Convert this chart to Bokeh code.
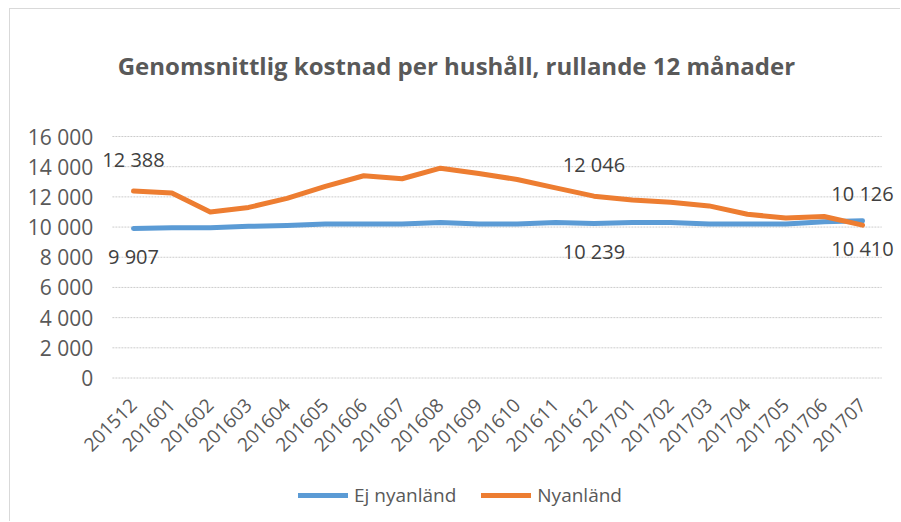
from bokeh.plotting import figure
from bokeh.models import (Range1d, FixedTicker, ColumnDataSource, LabelSet,
                          Label, Legend, LegendItem)
from bokeh.core.properties import value
from bokeh.embed import file_html
from bokeh.resources import INLINE
import math

# ---------------- data ----------------
months = ["201512", "201601", "201602", "201603", "201604", "201605", "201606", "201607",
          "201608", "201609", "201610", "201611", "201612", "201701", "201702", "201703",
          "201704", "201705", "201706", "201707"]
ej_nyanland = [9907, 9950, 9960, 10050, 10100, 10200, 10200, 10200, 10300, 10200,
               10200, 10300, 10239, 10300, 10300, 10200, 10200, 10200, 10350, 10410]
nyanland = [12388, 12250, 11000, 11300, 11900, 12700, 13400, 13200, 13900, 13550,
            13150, 12600, 12046, 11800, 11650, 11400, 10850, 10600, 10700, 10126]
label_months_orange = ["201512", "201612", "201707"]
label_values_orange = [12388, 12046, 10126]
label_months_blue = ["201512", "201612", "201707"]
label_values_blue = [9907, 10239, 10410]
y_ticks = [0, 2000, 4000, 6000, 8000, 10000, 12000, 14000, 16000]
title_text = "Genomsnittlig kostnad  per hushåll, rullande 12 månader"
series_names = ["Ej nyanländ", "Nyanländ"]

# ---------------- style / layout ----------------
FONT = "Open Sans"
GRAY = "#595959"
BLUE = "#5B9BD5"
ORANGE = "#ED7D31"
MT, ML = 8, 9                          # css margin (top, left) of the chart box
OX, OY = ML + 1, MT + 1                # figure canvas origin on the page
W, H = 901 - OX, 522 - OY
FL, FR, FT, FB = 14, 898, 30, 518      # frame edges (page px)
X0_PX, DX_PX = 133.0, 38.37            # first category centre, category step
Y0_PX, Y16_PX = 377.5, 136.0           # pixel of 0 and of 16000

ux = 1.0 / DX_PX
uy = 16000.0 / (Y0_PX - Y16_PX)
x_start = -(X0_PX - FL) * ux
x_end = x_start + (FR - FL) * ux
y_end = 16000 + (Y16_PX - FT) * uy
y_start = -(FB - Y0_PX) * uy


def fmt(v):
    return f"{v:,}".replace(",", " ")


idx = {m: i for i, m in enumerate(months)}
xs = list(range(len(months)))

p = figure(width=W, height=H, x_range=Range1d(x_start, x_end), y_range=Range1d(y_start, y_end),
           output_backend="svg", toolbar_location=None,
           min_border_left=FL - OX, min_border_right=W - (FR - OX),
           min_border_top=FT - OY, min_border_bottom=H - (FB - OY))
p.margin = (MT, 0, 0, ML)
p.styles = {"border-left": "1px solid #d9d9d9", "border-top": "1px solid #d9d9d9"}
p.outline_line_color = None
p.background_fill_color = "white"
p.border_fill_color = "white"
p.xgrid.visible = False
p.ygrid.visible = False

# y axis, placed at the left edge of the category band
p.yaxis.fixed_location = xs[0] - 0.5
p.yaxis.ticker = FixedTicker(ticks=y_ticks)
p.yaxis.major_label_overrides = {t: fmt(t) for t in y_ticks}
p.yaxis.axis_line_color = None
p.yaxis.major_tick_line_color = None
p.yaxis.minor_tick_line_color = None
p.yaxis.major_label_text_font = FONT
p.yaxis.major_label_text_font_size = "21px"
p.yaxis.major_label_text_color = GRAY
p.yaxis.major_label_standoff = 15

# x axis placed at y = 0
p.xaxis.fixed_location = 0
p.xaxis.ticker = FixedTicker(ticks=xs)
p.xaxis.major_label_overrides = {i: m for i, m in enumerate(months)}
p.xaxis.axis_line_color = None
p.xaxis.major_tick_line_color = None
p.xaxis.minor_tick_line_color = None
p.xaxis.major_label_orientation = math.pi / 4
p.xaxis.major_label_text_font = FONT
p.xaxis.major_label_text_font_size = "19px"
p.xaxis.major_label_text_color = GRAY
p.xaxis.major_label_standoff = 18

# horizontal gridlines at the y ticks, spanning the category band
p.segment(x0=[xs[0] - 0.55] * len(y_ticks), x1=[xs[-1] + 0.5] * len(y_ticks),
          y0=y_ticks, y1=y_ticks, line_color="#cccccc", line_width=1, line_dash="2 1")

src = ColumnDataSource(dict(x=xs, ej=ej_nyanland, ny=nyanland))
r_ej = p.line("x", "ej", source=src, line_color=BLUE, line_width=5, line_cap="round", line_join="round")
r_ny = p.line("x", "ny", source=src, line_color=ORANGE, line_width=5, line_cap="round", line_join="round")

src_o = ColumnDataSource(dict(x=[idx[m] for m in label_months_orange], y=label_values_orange,
                              t=[fmt(v) for v in label_values_orange]))
src_b = ColumnDataSource(dict(x=[idx[m] for m in label_months_blue], y=label_values_blue,
                              t=[fmt(v) for v in label_values_blue]))
for s, off in ((src_o, 32), (src_b, -28)):
    p.add_layout(LabelSet(x="x", y="y", text="t", source=s, y_offset=off,
                          text_align="center", text_baseline="middle",
                          text_font=value(FONT), text_font_size="20px", text_color="#404040"))

p.add_layout(Label(x=(459 - X0_PX) * ux, y=16000 + (Y16_PX - 65) * uy, text=title_text,
                   text_align="center", text_baseline="middle",
                   text_font=FONT, text_font_size="24px", text_font_style="bold",
                   text_color=GRAY))

legend = Legend(items=[LegendItem(label=series_names[0], renderers=[r_ej]),
                       LegendItem(label=series_names[1], renderers=[r_ny])],
                orientation="horizontal", location=(298 - FL, FB - 508), padding=0, margin=0,
                spacing=25, glyph_width=50, glyph_height=20, label_standoff=6,
                label_text_font=FONT, label_text_font_size="19px", label_text_color=GRAY,
                border_line_color=None, background_fill_alpha=0)
p.add_layout(legend)

open("out.html", "w").write(file_html(p, INLINE))
